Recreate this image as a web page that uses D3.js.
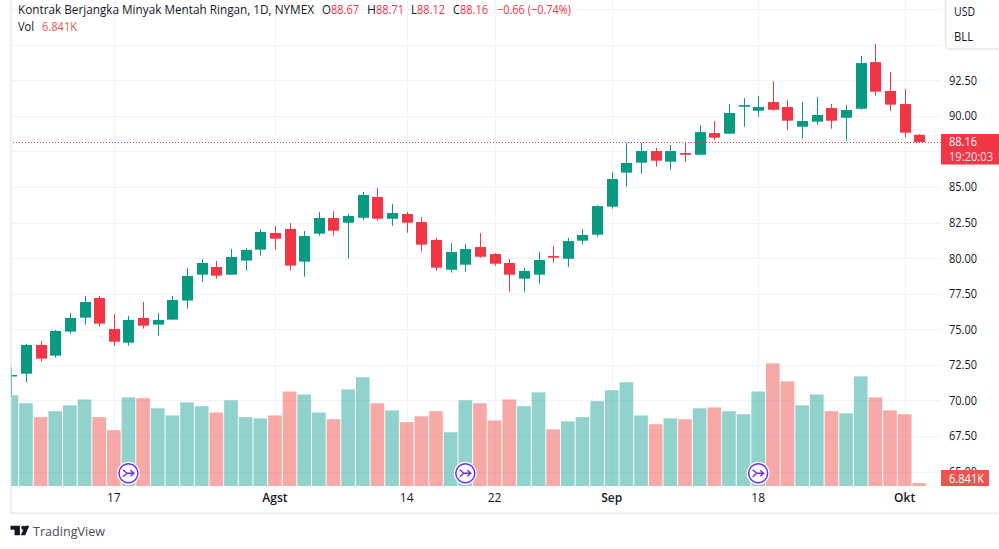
<!DOCTYPE html>
<html>
<head>
<meta charset="utf-8">
<script src="https://cdnjs.cloudflare.com/ajax/libs/d3/7.8.5/d3.min.js"></script>
<style>
  html, body { margin: 0; padding: 0; background: #fff; }
  svg { display: block; font-family: "Open Sans", "Noto Sans", sans-serif; }
  .axis path, .axis line { display: none; }
  .axis text { font-size: 12px; fill: #131722; font-family: "Open Sans", sans-serif; }
</style>
</head>
<body>
<div id="chart"></div>
<script>
const dates = [
  '2023-07-06','2023-07-07','2023-07-10','2023-07-11','2023-07-12','2023-07-13','2023-07-14',
  '2023-07-17','2023-07-18','2023-07-19','2023-07-20','2023-07-21','2023-07-24','2023-07-25',
  '2023-07-26','2023-07-27','2023-07-28','2023-07-31','2023-08-01','2023-08-02','2023-08-03',
  '2023-08-04','2023-08-07','2023-08-08','2023-08-09','2023-08-10','2023-08-11','2023-08-14',
  '2023-08-15','2023-08-16','2023-08-17','2023-08-18','2023-08-21','2023-08-22','2023-08-23',
  '2023-08-24','2023-08-25','2023-08-28','2023-08-29','2023-08-30','2023-08-31','2023-09-01',
  '2023-09-05','2023-09-06','2023-09-07','2023-09-08','2023-09-11','2023-09-12','2023-09-13',
  '2023-09-14','2023-09-15','2023-09-18','2023-09-19','2023-09-20','2023-09-21','2023-09-22',
  '2023-09-25','2023-09-26','2023-09-27','2023-09-28','2023-09-29','2023-10-02','2023-10-03'
];
const opens = [71.75,71.88,73.90,73.15,74.84,75.82,77.20,75.02,74.06,75.80,75.33,75.68,77.02,78.84,79.38,78.84,79.83,80.60,81.77,82.05,79.76,81.72,
  82.82,82.49,82.84,84.30,82.77,83.10,82.54,81.28,79.19,79.54,80.78,80.29,79.66,78.56,78.84,80.15,79.96,81.23,81.65,83.62,
  86.01,86.71,87.53,86.78,87.39,87.27,88.79,88.75,90.64,90.36,90.97,90.62,89.24,89.59,90.55,89.87,90.50,93.78,91.75,90.83,88.67];
const highs = [72.33,73.97,74.18,74.95,76.15,77.34,77.34,76.08,75.94,76.92,76.15,77.34,79.31,79.94,79.80,80.65,80.72,82.05,82.26,82.47,81.91,83.25,
  83.31,83.10,84.65,84.93,83.81,83.24,82.89,81.42,81.06,80.99,81.77,80.36,79.94,79.31,80.43,80.85,81.42,82.05,83.73,86.05,
  88.09,88.09,87.74,87.95,88.16,89.36,89.64,90.83,91.25,91.39,92.45,91.11,90.97,91.32,90.83,90.76,94.21,95.05,93.08,91.89,88.71];
const lows = [70.27,71.25,72.73,73.01,74.70,75.33,75.19,73.85,73.85,75.05,74.56,75.68,76.45,78.35,78.56,78.84,79.12,80.18,80.60,79.12,78.70,81.58,
  81.58,79.96,82.70,82.63,82.28,81.79,80.46,79.12,78.98,79.05,80.03,79.47,77.64,77.64,78.21,79.68,79.40,80.95,81.51,83.48,
  85.02,85.94,86.43,86.22,86.78,87.27,88.33,88.75,89.24,89.94,90.36,89.03,88.40,89.38,89.10,88.26,90.43,91.42,90.36,88.47,88.12];
const closes = [71.79,73.90,72.94,74.88,75.80,76.92,75.40,74.13,75.66,75.26,75.66,77.06,78.75,79.66,78.77,80.08,80.58,81.84,81.37,79.48,81.56,82.83,
  81.93,82.96,84.44,82.77,83.17,82.49,80.95,79.33,80.43,80.64,80.10,79.61,78.84,79.10,79.87,80.03,81.20,81.63,83.66,85.56,
  86.69,87.53,86.85,87.53,87.27,88.86,88.47,90.20,90.76,90.62,90.43,89.66,89.64,90.06,89.66,90.41,93.71,91.70,90.79,88.82,88.16];
// volume in thousands
const volumes = [216,197,164,178,192,206,164,133,211,209,185,168,199,190,175,204,164,161,168,225,218,175,
  159,230,259,197,180,152,166,178,128,204,197,156,206,190,223,135,154,164,202,228,
  247,168,147,161,159,185,187,178,171,225,292,249,192,218,178,173,261,211,180,171,6.841];
const priceTicks = [65,67.5,70,72.5,75,77.5,80,82.5,85,90,92.5];
const gridPrices = [65,67.5,70,72.5,75,77.5,80,82.5,85,87.5,90,92.5,95,97.5];
const timeLabels = [
  { date: '2023-07-17', text: '17' },
  { date: '2023-08-01', text: 'Agst', bold: true },
  { date: '2023-08-14', text: '14' },
  { date: '2023-08-22', text: '22' },
  { date: '2023-09-01', text: 'Sep', bold: true },
  { date: '2023-09-18', text: '18' },
  { date: '2023-10-02', text: 'Okt', bold: true }
];
const eventDates = ['2023-07-18','2023-08-18','2023-09-18'];

const width = 999, height = 549;
const green = '#089981', red = '#f23645';
const volGreen = 'rgba(38,166,154,0.5)', volRed = 'rgba(239,83,80,0.5)', labelRed = '#ef5350';
const ink = '#131722';
const pane = { left: 10, right: 941, top: 0, bottom: 486 };

const x = d3.scaleBand().domain(dates).range([3.98, 3.98 + 63 * 14.645]);
const y = d3.scaleLinear().domain([65, 92.5]).range([471.6, 80.3]);
const yVol = d3.scaleLinear().domain([0, 300]).range([486, 360]);
const cx = d => x(d) + x.bandwidth() / 2;
const priceFmt = d3.format('.2f');

// the reference font runs narrower than the installed ones, so squeeze to its widths
const fit = (sel, w) => sel.attr('textLength', w).attr('lengthAdjust', 'spacingAndGlyphs');

const svg = d3.select('#chart').append('svg')
  .attr('width', width)
  .attr('height', height);

svg.append('clipPath').attr('id', 'pane-clip').append('rect')
  .attr('x', pane.left + 1).attr('y', pane.top)
  .attr('width', pane.right - pane.left).attr('height', pane.bottom);

// grid
const grid = svg.append('g').attr('stroke', '#f0f3fa').attr('stroke-width', 1);
grid.selectAll('.h').data(gridPrices).enter().append('line')
  .attr('x1', pane.left).attr('x2', pane.right)
  .attr('y1', d => Math.round(y(d)) + 0.5).attr('y2', d => Math.round(y(d)) + 0.5);
grid.selectAll('.v').data(timeLabels).enter().append('line')
  .attr('y1', pane.top).attr('y2', pane.bottom)
  .attr('x1', d => Math.round(cx(d.date)) + 0.5).attr('x2', d => Math.round(cx(d.date)) + 0.5);

const plot = svg.append('g').attr('clip-path', 'url(#pane-clip)');

// volume
const isUp = i => closes[i] >= opens[i];
plot.selectAll('.vol').data(dates).enter().append('rect')
  .attr('x', d => x(d) + 0.5)
  .attr('width', x.bandwidth() - 1)
  .attr('y', (d, i) => yVol(volumes[i]))
  .attr('height', (d, i) => yVol(0) - yVol(volumes[i]))
  .attr('fill', (d, i) => isUp(i) ? volGreen : volRed);

// candles
const candle = plot.selectAll('.candle').data(dates).enter().append('g');
candle.append('line')
  .attr('x1', d => Math.round(cx(d)) + 0.5).attr('x2', d => Math.round(cx(d)) + 0.5)
  .attr('y1', (d, i) => y(highs[i])).attr('y2', (d, i) => y(lows[i]))
  .attr('stroke', (d, i) => isUp(i) ? green : red);
candle.append('rect')
  .attr('x', d => Math.round(cx(d)) - 5)
  .attr('width', 11)
  .attr('y', (d, i) => y(Math.max(opens[i], closes[i])))
  .attr('height', (d, i) => Math.max(1.5, Math.abs(y(opens[i]) - y(closes[i]))))
  .attr('fill', (d, i) => isUp(i) ? green : red);

// last price line
const lastClose = closes[closes.length - 1];
svg.append('line')
  .attr('x1', pane.left).attr('x2', pane.right)
  .attr('y1', Math.round(y(lastClose)) + 0.5).attr('y2', Math.round(y(lastClose)) + 0.5)
  .attr('stroke', red).attr('stroke-dasharray', '1 2');

// event markers
const marker = svg.selectAll('.event').data(eventDates).enter().append('g')
  .attr('transform', d => `translate(${cx(d)},473.3)`);
marker.append('circle').attr('r', 11.5).attr('fill', '#fff');
marker.append('circle').attr('r', 9.5).attr('fill', '#fff').attr('stroke', '#6a2bff').attr('stroke-width', 1.5);
marker.append('path')
  .attr('d', 'M-5.5 -3.5L-1.5 0L-5.5 3.5M-2 0H5M2 -3L5.5 0L2 3')
  .attr('fill', 'none').attr('stroke', '#6a2bff').attr('stroke-width', 1.4);

// right price axis
const axisY = svg.append('g').attr('class', 'axis')
  .attr('transform', `translate(${pane.right},0)`)
  .call(d3.axisRight(y).tickValues(priceTicks).tickFormat(priceFmt).tickSize(0).tickPadding(8));
fit(axisY.selectAll('text'), 28);

// time axis
const timeAxis = svg.append('g').attr('class', 'axis')
  .attr('transform', `translate(0,${pane.bottom})`)
  .call(d3.axisBottom(x)
    .tickValues(timeLabels.map(d => d.date))
    .tickFormat(d => timeLabels.find(t => t.date === d).text)
    .tickSize(0).tickPadding(7));
timeAxis.selectAll('text')
  .attr('font-weight', d => timeLabels.find(t => t.date === d).bold ? 600 : 400);

// frame
const frame = svg.append('g').attr('fill', '#e8eaf1');
frame.append('rect').attr('x', 10).attr('y', 0).attr('width', 1.5).attr('height', 514);
frame.append('rect').attr('x', 10).attr('y', 512.5).attr('width', 989).attr('height', 1.5);

// price badges
const badge = svg.append('g');
badge.append('rect').attr('x', 941).attr('y', 134).attr('width', 58).attr('height', 30.5).attr('fill', red);
fit(badge.append('text').attr('x', 949).attr('y', 146).attr('fill', '#fff').attr('font-size', 12).text(priceFmt(lastClose)), 28);
fit(badge.append('text').attr('x', 949).attr('y', 160.5).attr('fill', '#fde0e3').attr('font-size', 12).text('19:20:03'), 44);
badge.append('rect').attr('x', 941).attr('y', 470).attr('width', 48).attr('height', 16).attr('fill', labelRed);
fit(badge.append('text').attr('x', 949).attr('y', 483).attr('fill', '#fff').attr('font-size', 12).text('6.841K'), 35);

// unit box
svg.append('rect').attr('x', 945.5).attr('y', -8).attr('width', 70).attr('height', 57)
  .attr('rx', 4).attr('fill', '#fff').attr('stroke', '#e6e8ef').attr('stroke-width', 1.5);
fit(svg.append('text').attr('x', 954).attr('y', 16).attr('fill', ink).attr('font-size', 12).text('USD'), 21);
fit(svg.append('text').attr('x', 954).attr('y', 41).attr('fill', ink).attr('font-size', 12).text('BLL'), 19);

// legend
const legendBits = [
  [18, 14, 'Kontrak Berjangka Minyak Mentah Ringan, 1D, NYMEX', ink, 296],
  [322, 14, 'O', ink, 9], [331, 14, '88.67', red, 28],
  [367, 14, 'H', ink, 9], [376, 14, '88.71', red, 28],
  [411, 14, 'L', ink, 6], [417, 14, '88.12', red, 28],
  [453, 14, 'C', ink, 7], [460, 14, '88.16', red, 28],
  [497, 14, '\u22120.66 (\u22120.74%)', red, 74],
  [18, 31, 'Vol', ink, 16], [42, 31, '6.841K', labelRed, 35]
];
svg.selectAll('.legend').data(legendBits).enter().append('text')
  .attr('x', d => d[0]).attr('y', d => d[1])
  .attr('fill', d => d[3]).attr('font-size', 12.5)
  .attr('textLength', d => d[4]).attr('lengthAdjust', 'spacingAndGlyphs')
  .text(d => d[2]);

// logo
const logo = svg.append('g').attr('transform', 'translate(10.5,525.8) scale(0.67)').attr('fill', ink);
logo.append('path').attr('d', 'M14 0H0v6h6v8h8V0z');
logo.append('circle').attr('cx', 19).attr('cy', 3).attr('r', 3);
logo.append('path').attr('d', 'M22 14h-6.5L21.5 0H28l-6 14z');
fit(svg.append('text').attr('x', 33).attr('y', 536).attr('fill', '#4a4e5c').attr('font-size', 13).text('TradingView'), 72);
</script>
</body>
</html>
